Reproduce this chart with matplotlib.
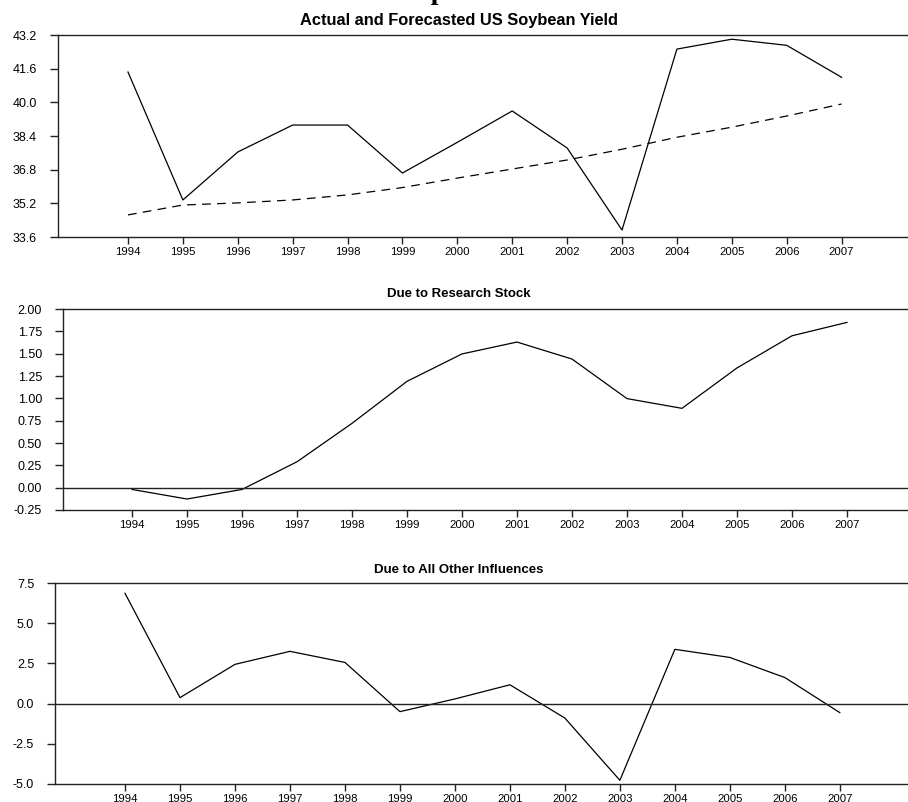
import matplotlib
matplotlib.use("Agg")
import matplotlib.pyplot as plt

plt.rcParams['font.family'] = ['Liberation Sans', 'DejaVu Sans']

years = [1994, 1995, 1996, 1997, 1998, 1999, 2000, 2001, 2002, 2003, 2004, 2005, 2006, 2007]
actual_yield = [41.44, 35.36, 37.64, 38.92, 38.92, 36.64, 38.1, 39.59, 37.83, 33.93, 42.53, 43.0, 42.71, 41.19]
forecast_yield = [34.65, 35.12, 35.22, 35.36, 35.6, 35.95, 36.4, 36.83, 37.26, 37.77, 38.34, 38.82, 39.35, 39.92]
research_stock = [-0.02, -0.127, -0.02, 0.29, 0.72, 1.19, 1.497, 1.63, 1.44, 0.997, 0.888, 1.34, 1.70, 1.85]
other_influences = [6.86, 0.37, 2.44, 3.25, 2.56, -0.5, 0.29, 1.17, -0.9, -4.77, 3.375, 2.87, 1.62, -0.56]

titles = ["Actual and Forecasted US Soybean Yield", "Due to Research Stock", "Due to All Other Influences"]
yticks1 = [33.6, 35.2, 36.8, 38.4, 40.0, 41.6, 43.2]
yticks2 = [-0.25, 0.0, 0.25, 0.5, 0.75, 1.0, 1.25, 1.5, 1.75, 2.0]
yticks3 = [-5.0, -2.5, 0.0, 2.5, 5.0, 7.5]

W, H = 908, 802
fig = plt.figure(figsize=(W / 100, H / 100), dpi=100)

def make_ax(left_px, top_px, bottom_px, xl, xr):
    ax = fig.add_axes([left_px / W, 1 - bottom_px / H, 1 - left_px / W, (bottom_px - top_px) / H])
    ax.set_xlim(xl, xr)
    ax.spines['right'].set_visible(False)
    for s in ['left', 'top', 'bottom']:
        ax.spines[s].set_linewidth(1.0)
        ax.spines[s].set_color('#222222')
    ax.set_xticks(years)
    ax.set_xticklabels([str(y) for y in years])
    ax.tick_params(axis='x', direction='out', length=5, width=1.0, labelsize=8.2, color='#222222', pad=2)
    ax.tick_params(axis='y', direction='out', length=6, width=1.0, labelsize=9, color='#222222', pad=9)
    return ax

lw = 0.9

ax1 = make_ax(58, 35, 237, 1992.725, 2008.21)
ax1.plot(years, actual_yield, color='black', lw=lw)
ax1.plot(years, forecast_yield, color='black', lw=lw, ls=(0, (7, 5)))
ax1.set_ylim(33.6, 43.2)
ax1.set_yticks(yticks1)
ax1.set_yticklabels([f"{v:.1f}" for v in yticks1])

ax2 = make_ax(63, 309, 510, 1992.745, 2008.11)
ax2.plot(years, research_stock, color='black', lw=lw)
ax2.axhline(0, color='#222222', lw=1.0)
ax2.set_ylim(-0.25, 2.0)
ax2.set_yticks(yticks2)
ax2.set_yticklabels([f"{v:.2f}" for v in yticks2])

ax3 = make_ax(55, 583, 784, 1992.727, 2008.24)
ax3.plot(years, other_influences, color='black', lw=lw)
ax3.axhline(0, color='#222222', lw=1.0)
ax3.set_ylim(-5.0, 7.5)
ax3.set_yticks(yticks3)
ax3.set_yticklabels([f"{v:.1f}" for v in yticks3])

for t, ypx, fs in zip(titles, [20, 294, 570], [11.8, 9.5, 9.5]):
    fig.text(459 / W, 1 - ypx / H, t, ha='center', va='center', fontsize=fs, fontweight='bold')

fig.text(437 / W, 1 + 1 / H, "Decomposition", ha='center', va='baseline',
         fontsize=20, fontweight='bold', family=['Liberation Serif', 'DejaVu Serif'])

fig.savefig("out.png", dpi=100)
